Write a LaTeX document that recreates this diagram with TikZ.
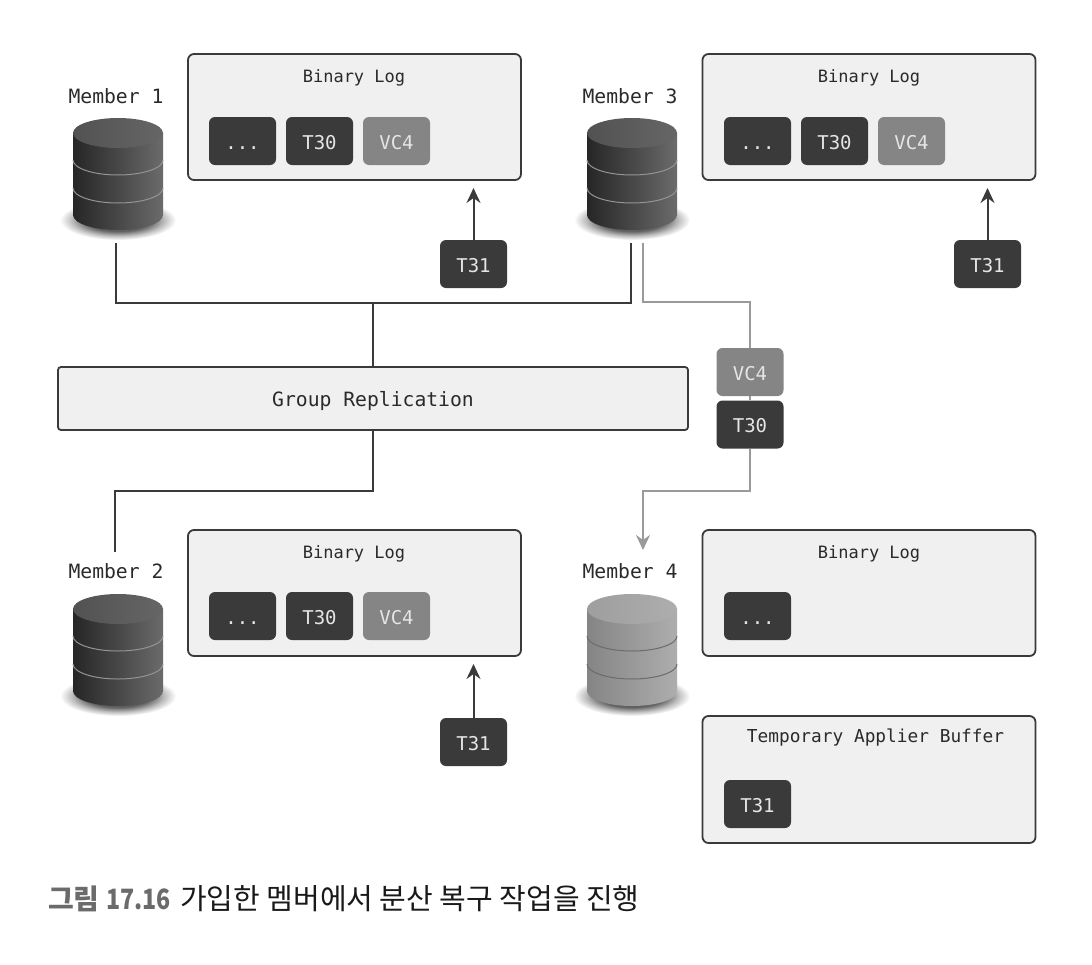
\documentclass[tikz,border=0pt]{standalone}
\usepackage{fontspec}
\setmainfont{DejaVu Sans Mono}
\newfontfamily\cjkfont{Noto Sans CJK KR}
\usetikzlibrary{arrows.meta}
\definecolor{boxfill}{HTML}{F0F0F0}
\definecolor{boxline}{HTML}{3A3A3A}
\definecolor{chipdark}{HTML}{3A3A3A}
\definecolor{chipgray}{HTML}{858585}
\definecolor{wiregray}{HTML}{9A9A9A}
\definecolor{txt}{HTML}{2A2A2A}
\pgfdeclareradialshading{dbshadow}{\pgfpoint{0bp}{0bp}}{
  color(0bp)=(black!70); color(14bp)=(black!62); color(20bp)=(black!25); color(25bp)=(white); color(50bp)=(white)}
\tikzset{
  logbox/.style={draw=boxline,fill=boxfill,line width=1.8pt,rounded corners=6pt,minimum width=333pt,minimum height=126pt,inner sep=0pt},
  groupbox/.style={draw=boxline,fill=boxfill,line width=1.8pt,rounded corners=3pt,minimum width=630pt,minimum height=63pt,inner sep=0pt,text=txt,text height=15pt,text depth=0pt,font=\fontsize{19.7pt}{22pt}\selectfont},
  chip/.style={fill=chipdark,rounded corners=6pt,minimum width=67pt,minimum height=48pt,inner sep=0pt,text=white!90!black,text height=16pt,text depth=0pt,font=\fontsize{19pt}{22pt}\selectfont},
  graychip/.style={chip,fill=chipgray},
  title/.style={text=txt,inner sep=0pt,font=\fontsize{17pt}{20pt}\selectfont},
  member/.style={text=txt,inner sep=0pt,font=\fontsize{19.7pt}{22pt}\selectfont},
  wire/.style={draw=boxline,line width=2pt,line join=miter},
  graywire/.style={draw=wiregray,line width=2.4pt,line join=miter},
  blackarrow/.style={wire,-{Stealth[length=15pt,width=14pt,inset=5pt]}},
  grayarrow/.style={graywire,-{Stealth[length=15pt,width=14pt,inset=5pt]}}
}
% #1 centre x, #2 top y, #3 left, #4 mid, #5 right, #6 top face light, #7 top face dark, #8 band line
\newcommand{\dbicon}[8]{%
  \begin{scope}[shift={(#1,#2)}]
    \shade[shading=dbshadow] (0,102) ellipse [x radius=58,y radius=20];
    \shade[left color=#3,right color=#5,middle color=#4]
      (-45,15) -- (-45,97) arc[start angle=180,end angle=0,x radius=45,y radius=15] -- (45,15) -- cycle;
    \draw[#8,line width=1pt] (-45,42) arc[start angle=180,end angle=0,x radius=45,y radius=15];
    \draw[#8,line width=1pt] (-45,70) arc[start angle=180,end angle=0,x radius=45,y radius=15];
    \shade[left color=#6,right color=#7] (0,15) ellipse [x radius=45,y radius=15];
  \end{scope}}
\begin{document}
\begin{tikzpicture}[x=1pt,y=-1pt]
\useasboundingbox (0,0) rectangle (1092,964);
\fill[white] (0,0) rectangle (1092,964);

% cylinders
\dbicon{118}{118}{black!85}{black!72}{black!58}{black!68}{black!60}{black!42}
\dbicon{632}{118}{black!85}{black!72}{black!58}{black!68}{black!60}{black!42}
\dbicon{118}{594}{black!85}{black!72}{black!58}{black!68}{black!60}{black!42}
\dbicon{632}{594}{black!48}{black!40}{black!32}{black!38}{black!32}{black!58}

% members
\node[member] (m1) at (116,96) {Member 1};
\node[member] (m3) at (630,96) {Member 3};
\node[member] (m2) at (116,571) {Member 2};
\node[member] (m4) at (630,571) {Member 4};

% log boxes
\node[logbox] (b1) at (354.5,117) {};
\node[logbox] (b3) at (869,117) {};
\node[logbox] (b2) at (354.5,593) {};
\node[logbox] (b4) at (869,593) {};
\node[logbox,minimum height=127pt] (b5) at (869,779.5) {};
\node[title] (t1) at (354,78) {Binary Log};
\node[title] (t3) at (869,78) {Binary Log};
\node[title] (t2) at (354,554) {Binary Log};
\node[title] (t4) at (869,554) {Binary Log};
\node[title,font=\fontsize{17.8pt}{20pt}\selectfont] (t5) at (875.5,738) {Temporary Applier Buffer};

% chips
\node[chip] (c1a) at (242.5,141) {...};
\node[chip] (c1b) at (319.5,141) {T30};
\node[graychip] (c1c) at (396.5,141) {VC4};
\node[chip] (c3a) at (757.5,141) {...};
\node[chip] (c3b) at (834.5,141) {T30};
\node[graychip] (c3c) at (911.5,141) {VC4};
\node[chip] (c2a) at (242.5,616) {...};
\node[chip] (c2b) at (319.5,616) {T30};
\node[graychip] (c2c) at (396.5,616) {VC4};
\node[chip] (c4a) at (757.5,616) {...};
\node[chip] (c5a) at (757.5,804) {T31};
\node[chip] (n1) at (473.5,264) {T31};
\node[chip] (n3) at (987.5,264) {T31};
\node[chip] (n2) at (473.5,742) {T31};

% group replication
\node[groupbox] (g) at (373,398.5) {Group Replication};

% free ends of connectors
\coordinate (a1) at (473.5,188);
\coordinate (a3) at (987.5,188);
\coordinate (a2) at (473.5,664);
\coordinate (w1) at (116,243);
\coordinate (w3) at (631,243);
\coordinate (wj) at (373,303);
\coordinate (w2) at (115,552);
\coordinate (w2k) at (373,491);
\coordinate (gs) at (643,243);
\coordinate (gk) at (750,302);
\coordinate (ge) at (643,550);
\coordinate (gl) at (750,491);

% black connectors
\draw[blackarrow] (n1.north) -- (a1);
\draw[blackarrow] (n3.north) -- (a3);
\draw[blackarrow] (n2.north) -- (a2);
\draw[wire] (w1) |- (wj) -| (w3);
\draw[wire] (wj) -- (wj |- g.north);
\draw[wire] (w2k |- g.south) -- (w2k) -| (w2);

% gray connectors and the chips on them
\node[graychip] (vc) at (750,372) {VC4};
\node[chip] (tt) at (750,424.5) {T30};
\draw[graywire] (gs) |- (gk) -- (vc.north);
\draw[graywire] (vc.south) -- (tt.north);
\draw[grayarrow] (tt.south) -- (gl) -| (ge);

% caption
\node[anchor=west,inner sep=0pt,text=black!58,font=\cjkfont\bfseries\fontsize{28pt}{30pt}\selectfont] (cap1) at (48,899) {그림 {\addfontfeature{FakeStretch=0.83}17.16}};
\node[anchor=west,inner sep=0pt,text=black!90,font=\cjkfont\fontsize{29pt}{32pt}\selectfont] (cap2) at (180,899) {가입한 멤버에서 분산 복구 작업을 진행};
\end{tikzpicture}
\end{document}
